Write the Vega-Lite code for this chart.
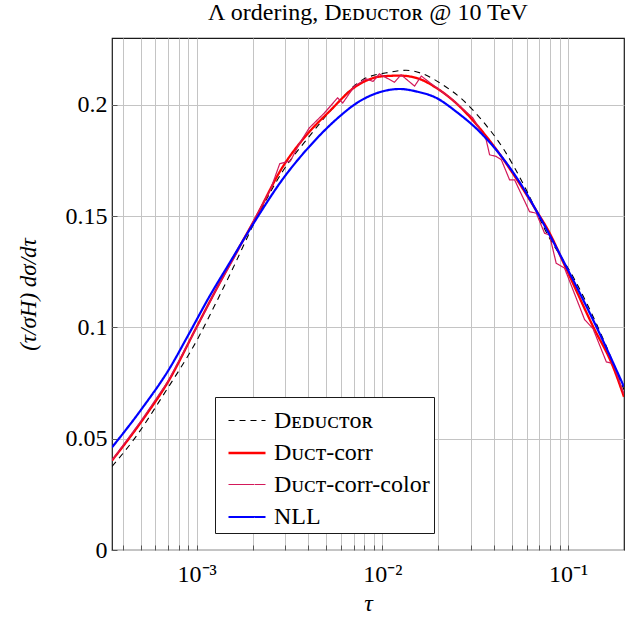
{
  "$schema": "https://vega.github.io/schema/vega-lite/v6.json",
  "width": 512,
  "height": 512,
  "autosize": {"type": "none"},
  "padding": {"left": 112, "top": 38, "right": 17, "bottom": 68},
  "background": "white",
  "config": {
    "font": "Liberation Serif",
    "view": {"stroke": "#1a1a1a", "strokeWidth": 1.2},
    "axis": {
      "labelFont": "Liberation Serif",
      "titleFont": "Liberation Serif",
      "labelFontSize": 24,
      "titleFontSize": 24,
      "labelColor": "#000",
      "titleColor": "#000",
      "titleFontWeight": "normal",
      "gridColor": "#c4c4c4",
      "gridWidth": 1,
      "gridOpacity": 1,
      "domain": false,
      "tickColor": "#555",
      "tickWidth": 1
    },
    "legend": {
      "labelFont": "Liberation Serif",
      "labelFontSize": 24,
      "labelColor": "#000",
      "rowPadding": 0
    }
  },
  "title": {
    "text": "Λ ordering, Dᴇᴅᴜᴄᴛᴏʀ @ 10 TeV",
    "font": "Liberation Serif",
    "fontSize": 24,
    "fontWeight": "normal",
    "color": "#000",
    "anchor": "middle",
    "baseline": "alphabetic",
    "offset": 17,
    "dy": 23,
    "frame": "group"
  },
  "data": {
    "values": [
      {"s": "Deductor", "t": 0.00035, "v": 0.0375},
      {"s": "Deductor", "t": 0.00047, "v": 0.0508},
      {"s": "Deductor", "t": 0.000654, "v": 0.0690},
      {"s": "Deductor", "t": 0.00103, "v": 0.0960},
      {"s": "Deductor", "t": 0.00127, "v": 0.1110},
      {"s": "Deductor", "t": 0.00156, "v": 0.1262},
      {"s": "Deductor", "t": 0.00208, "v": 0.1483},
      {"s": "Deductor", "t": 0.0029, "v": 0.1700},
      {"s": "Deductor", "t": 0.00404, "v": 0.1858},
      {"s": "Deductor", "t": 0.00562, "v": 0.2000},
      {"s": "Deductor", "t": 0.00784, "v": 0.2113},
      {"s": "Deductor", "t": 0.0109, "v": 0.2146},
      {"s": "Deductor", "t": 0.0134, "v": 0.2155},
      {"s": "Deductor", "t": 0.0164, "v": 0.2140},
      {"s": "Deductor", "t": 0.0211, "v": 0.2090},
      {"s": "Deductor", "t": 0.027, "v": 0.2023},
      {"s": "Deductor", "t": 0.034, "v": 0.1935},
      {"s": "Deductor", "t": 0.045, "v": 0.1800},
      {"s": "Deductor", "t": 0.0595, "v": 0.1618},
      {"s": "Deductor", "t": 0.075, "v": 0.1440},
      {"s": "Deductor", "t": 0.11, "v": 0.1205},
      {"s": "Deductor", "t": 0.145, "v": 0.1000},
      {"s": "Deductor", "t": 0.2, "v": 0.0720},

      {"s": "Duct-corr", "t": 0.00035, "v": 0.0402},
      {"s": "Duct-corr", "t": 0.00051, "v": 0.0583},
      {"s": "Duct-corr", "t": 0.00071, "v": 0.0763},
      {"s": "Duct-corr", "t": 0.00099, "v": 0.0995},
      {"s": "Duct-corr", "t": 0.00127, "v": 0.1168},
      {"s": "Duct-corr", "t": 0.00163, "v": 0.1335},
      {"s": "Duct-corr", "t": 0.00204, "v": 0.1480},
      {"s": "Duct-corr", "t": 0.0029, "v": 0.1720},
      {"s": "Duct-corr", "t": 0.00404, "v": 0.1878},
      {"s": "Duct-corr", "t": 0.00518, "v": 0.1970},
      {"s": "Duct-corr", "t": 0.00721, "v": 0.2083},
      {"s": "Duct-corr", "t": 0.01, "v": 0.2128},
      {"s": "Duct-corr", "t": 0.0124, "v": 0.2131},
      {"s": "Duct-corr", "t": 0.0152, "v": 0.2121},
      {"s": "Duct-corr", "t": 0.0195, "v": 0.2076},
      {"s": "Duct-corr", "t": 0.0249, "v": 0.2008},
      {"s": "Duct-corr", "t": 0.0333, "v": 0.1896},
      {"s": "Duct-corr", "t": 0.041, "v": 0.1800},
      {"s": "Duct-corr", "t": 0.0515, "v": 0.1680},
      {"s": "Duct-corr", "t": 0.0674, "v": 0.1525},
      {"s": "Duct-corr", "t": 0.0794, "v": 0.1425},
      {"s": "Duct-corr", "t": 0.0957, "v": 0.1280},
      {"s": "Duct-corr", "t": 0.1361, "v": 0.1005},
      {"s": "Duct-corr", "t": 0.1743, "v": 0.0825},
      {"s": "Duct-corr", "t": 0.2, "v": 0.0688},

      {"s": "Duct-corr-color", "t": 0.00035, "v": 0.0403},
      {"s": "Duct-corr-color", "t": 0.0005, "v": 0.0578},
      {"s": "Duct-corr-color", "t": 0.0007, "v": 0.0757},
      {"s": "Duct-corr-color", "t": 0.001, "v": 0.1000},
      {"s": "Duct-corr-color", "t": 0.0013, "v": 0.1183},
      {"s": "Duct-corr-color", "t": 0.00165, "v": 0.1335},
      {"s": "Duct-corr-color", "t": 0.00205, "v": 0.1488},
      {"s": "Duct-corr-color", "t": 0.0025, "v": 0.1620},
      {"s": "Duct-corr-color", "t": 0.0028, "v": 0.1735},
      {"s": "Duct-corr-color", "t": 0.0032, "v": 0.1748},
      {"s": "Duct-corr-color", "t": 0.0036, "v": 0.1830},
      {"s": "Duct-corr-color", "t": 0.00404, "v": 0.1896},
      {"s": "Duct-corr-color", "t": 0.00487, "v": 0.1963},
      {"s": "Duct-corr-color", "t": 0.00574, "v": 0.2031},
      {"s": "Duct-corr-color", "t": 0.00612, "v": 0.2008},
      {"s": "Duct-corr-color", "t": 0.00706, "v": 0.2083},
      {"s": "Duct-corr-color", "t": 0.00817, "v": 0.2116},
      {"s": "Duct-corr-color", "t": 0.00891, "v": 0.2105},
      {"s": "Duct-corr-color", "t": 0.00964, "v": 0.2139},
      {"s": "Duct-corr-color", "t": 0.0116, "v": 0.2101},
      {"s": "Duct-corr-color", "t": 0.0126, "v": 0.2135},
      {"s": "Duct-corr-color", "t": 0.0149, "v": 0.2084},
      {"s": "Duct-corr-color", "t": 0.0162, "v": 0.2129},
      {"s": "Duct-corr-color", "t": 0.0183, "v": 0.2095},
      {"s": "Duct-corr-color", "t": 0.0239, "v": 0.2023},
      {"s": "Duct-corr-color", "t": 0.0307, "v": 0.1941},
      {"s": "Duct-corr-color", "t": 0.0362, "v": 0.1843},
      {"s": "Duct-corr-color", "t": 0.0378, "v": 0.1775},
      {"s": "Duct-corr-color", "t": 0.041, "v": 0.1768},
      {"s": "Duct-corr-color", "t": 0.0437, "v": 0.1753},
      {"s": "Duct-corr-color", "t": 0.0484, "v": 0.1663},
      {"s": "Duct-corr-color", "t": 0.0515, "v": 0.1663},
      {"s": "Duct-corr-color", "t": 0.062, "v": 0.1520},
      {"s": "Duct-corr-color", "t": 0.0674, "v": 0.1513},
      {"s": "Duct-corr-color", "t": 0.0747, "v": 0.1423},
      {"s": "Duct-corr-color", "t": 0.0794, "v": 0.1415},
      {"s": "Duct-corr-color", "t": 0.0863, "v": 0.1288},
      {"s": "Duct-corr-color", "t": 0.0957, "v": 0.1266},
      {"s": "Duct-corr-color", "t": 0.1227, "v": 0.1035},
      {"s": "Duct-corr-color", "t": 0.1361, "v": 0.0995},
      {"s": "Duct-corr-color", "t": 0.1607, "v": 0.0845},
      {"s": "Duct-corr-color", "t": 0.1743, "v": 0.0838},
      {"s": "Duct-corr-color", "t": 0.2, "v": 0.0700},

      {"s": "NLL", "t": 0.00035, "v": 0.0461},
      {"s": "NLL", "t": 0.00051, "v": 0.0638},
      {"s": "NLL", "t": 0.00071, "v": 0.0812},
      {"s": "NLL", "t": 0.00091, "v": 0.0972},
      {"s": "NLL", "t": 0.00117, "v": 0.1138},
      {"s": "NLL", "t": 0.0015, "v": 0.1288},
      {"s": "NLL", "t": 0.00208, "v": 0.1483},
      {"s": "NLL", "t": 0.0029, "v": 0.1665},
      {"s": "NLL", "t": 0.00404, "v": 0.1812},
      {"s": "NLL", "t": 0.00562, "v": 0.1933},
      {"s": "NLL", "t": 0.00751, "v": 0.2015},
      {"s": "NLL", "t": 0.01, "v": 0.2060},
      {"s": "NLL", "t": 0.0124, "v": 0.2071},
      {"s": "NLL", "t": 0.0152, "v": 0.2060},
      {"s": "NLL", "t": 0.0195, "v": 0.2031},
      {"s": "NLL", "t": 0.0249, "v": 0.1970},
      {"s": "NLL", "t": 0.0333, "v": 0.1880},
      {"s": "NLL", "t": 0.045, "v": 0.1755},
      {"s": "NLL", "t": 0.056, "v": 0.1640},
      {"s": "NLL", "t": 0.0702, "v": 0.1498},
      {"s": "NLL", "t": 0.102, "v": 0.1243},
      {"s": "NLL", "t": 0.142, "v": 0.1003},
      {"s": "NLL", "t": 0.2, "v": 0.0733}
    ]
  },
  "encoding": {
    "x": {
      "field": "t",
      "type": "quantitative",
      "scale": {"type": "log", "domain": [0.00035, 0.2], "nice": false},
      "axis": {
        "title": "τ",
        "titleFontStyle": "italic",
        "titleX": 256,
        "titleY": 53,
        "titleBaseline": "middle",
        "values": [0.0004, 0.0005, 0.0006, 0.0007, 0.0008, 0.0009, 0.001, 0.002, 0.003, 0.004, 0.005, 0.006, 0.007, 0.008, 0.009, 0.01, 0.02, 0.03, 0.04, 0.05, 0.06, 0.07, 0.08, 0.09, 0.1],
        "labelExpr": "datum.value == 0.001 ? '10⁻³' : datum.value == 0.01 ? '10⁻²' : datum.value == 0.1 ? '10⁻¹' : ''",
        "tickSize": -5,
        "labelPadding": 17,
        "grid": true
      }
    },
    "y": {
      "field": "v",
      "type": "quantitative",
      "scale": {"domain": [0, 0.23], "nice": false},
      "axis": {
        "title": "(τ/σH) dσ/dτ",
        "titleFontStyle": "italic",
        "titleFontSize": 23,
        "titleAngle": -90,
        "titleX": -84,
        "titleY": 256,
        "titleBaseline": "middle",
        "titleAlign": "center",
        "values": [0, 0.05, 0.1, 0.15, 0.2],
        "format": "~g",
        "tickSize": -5,
        "labelPadding": 10,
        "grid": true
      }
    },
    "color": {
      "field": "s",
      "type": "nominal",
      "scale": {
        "domain": ["Deductor", "Duct-corr", "Duct-corr-color", "NLL"],
        "range": ["#000000", "#ff0000", "#d3195a", "#0000ff"]
      },
      "legend": {
        "title": null,
        "orient": "none",
        "legendX": 103,
        "legendY": 359,
        "symbolType": "stroke",
        "symbolSize": 1369,
        "labelOffset": 7,
        "padding": 4,
        "symbolOffset": 8,
        "strokeColor": "#1a1a1a",
        "fillColor": "white",
        "cornerRadius": 0,
        "labelExpr": "datum.label == 'Deductor' ? 'Dᴇᴅᴜᴄᴛᴏʀ' : datum.label == 'Duct-corr' ? 'Dᴜᴄᴛ-corr' : datum.label == 'Duct-corr-color' ? 'Dᴜᴄᴛ-corr-color' : datum.label"
      }
    },
    "strokeDash": {
      "field": "s",
      "type": "nominal",
      "scale": {
        "domain": ["Deductor", "Duct-corr", "Duct-corr-color", "NLL"],
        "range": [[6, 5], [1, 0], [1, 0], [1, 0]]
      },
      "legend": null
    },
    "strokeWidth": {
      "field": "s",
      "type": "nominal",
      "scale": {
        "type": "ordinal",
        "domain": ["Deductor", "Duct-corr", "Duct-corr-color", "NLL"],
        "range": [1.1, 2.3, 1.2, 2.2]
      },
      "legend": null
    }
  },
  "layer": [
    {
      "transform": [{"filter": "datum.s == 'Deductor' || datum.s == 'Duct-corr'"}],
      "mark": {"type": "line", "interpolate": "monotone", "clip": true}
    },
    {
      "transform": [{"filter": "datum.s == 'Duct-corr-color'"}],
      "mark": {"type": "line", "interpolate": "linear", "clip": true}
    },
    {
      "transform": [{"filter": "datum.s == 'NLL'"}],
      "mark": {"type": "line", "interpolate": "monotone", "clip": true}
    }
  ]
}
